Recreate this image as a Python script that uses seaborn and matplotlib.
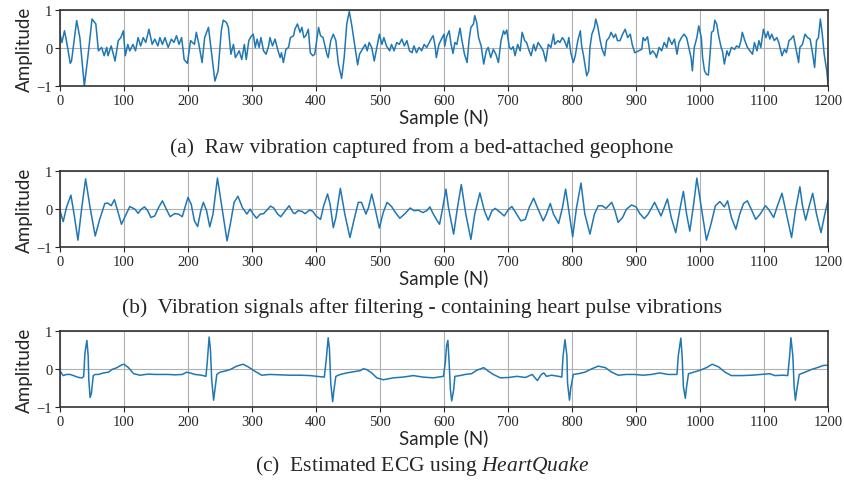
import numpy as np
import pandas as pd
import seaborn as sns
import matplotlib.pyplot as plt

# (a) raw geophone vibration
raw_x = [0, 3, 7, 10, 16, 18, 26, 31, 38, 44, 50, 56, 60, 65, 69, 73, 75, 80, 86, 91, 95, 99,
         102, 106, 109, 114, 118, 122, 126, 130, 134, 139, 144, 148, 153, 156, 160, 164, 169,
         174, 178, 182, 186, 190, 194, 199, 204, 210, 213, 217, 222, 226, 232, 237, 242, 247,
         252, 255, 260, 263, 267, 271, 274, 280, 284, 288, 291, 295, 298, 302, 305, 308, 311,
         314, 318, 322, 326, 328, 332, 336, 340, 344, 346, 349, 353, 357, 360, 365, 367, 371,
         375, 378, 381, 384, 388, 391, 395, 398, 404, 407, 411, 417, 419, 423, 427, 431, 435,
         440, 444, 448, 452, 456, 461, 465, 468, 471, 477, 480, 483, 487, 491, 495, 499, 503,
         506, 510, 515, 518, 522, 526, 530, 534, 538, 542, 546, 550, 553, 557, 561, 565, 569,
         573, 577, 581, 583, 586, 588, 592, 596, 600, 601, 604, 608, 611, 614, 617, 620, 625,
         628, 632, 636, 639, 642, 646, 648, 651, 654, 658, 662, 666, 669, 673, 677, 681, 685,
         689, 693, 695, 698, 702, 705, 708, 711, 715, 719, 722, 726, 729, 733, 736, 740, 743,
         747, 752, 755, 759, 763, 767, 771, 773, 778, 781, 785, 788, 792, 795, 798, 802, 805,
         809, 813, 815, 818, 820, 823, 826, 828, 831, 835, 837, 840, 844, 847, 851, 854, 858,
         861, 865, 868, 871, 875, 879, 883, 887, 891, 894, 898, 904, 909, 911, 914, 918, 922,
         926, 930, 932, 936, 940, 944, 948, 951, 956, 960, 964, 967, 971, 975, 979, 983, 986,
         988, 991, 995, 998, 1002, 1004, 1007, 1010, 1013, 1016, 1018, 1021, 1023, 1026, 1029,
         1033, 1035, 1038, 1042, 1045, 1049, 1054, 1057, 1061, 1064, 1066, 1070, 1074, 1078,
         1082, 1085, 1089, 1092, 1095, 1099, 1103, 1106, 1109, 1112, 1116, 1120, 1123, 1128,
         1132, 1135, 1139, 1142, 1146, 1149, 1154, 1156, 1160, 1164, 1168, 1172, 1176, 1179,
         1182, 1185, 1188, 1191, 1194, 1198, 1200]
raw_y = [0.37, 0.15, 0.46, 0.2, -0.4, -0.34, 0.73, 0.28, -1.0, -0.16, 0.77, 0.64, -0.07, 0.02,
         -0.2, 0.02, -0.2, 0.06, -0.34, 0.2, 0.28, 0.46, -0.2, 0.1, -0.07, 0.1, -0.07, 0.28,
         0.06, 0.28, 0.15, 0.5, 0.1, 0.24, 0.06, 0.28, 0.1, 0.28, 0.02, 0.24, 0.15, 0.33, 0.1,
         0.28, -0.3, -0.4, 0.2, 0.1, 0.42, 0.1, -0.38, 0.28, 0.55, -0.16, -0.87, -0.6, 0.46,
         0.74, 0.68, 0.55, -0.16, 0.1, -0.25, -0.07, -0.3, 0.1, -0.3, 0.2, 0.3, 0.37, 0.02,
         0.24, 0.02, 0.28, -0.07, -0.16, 0.06, 0.28, 0.06, 0.24, -0.03, -0.25, -0.12, -0.38,
         -0.03, 0.02, 0.28, 0.33, 0.5, 0.64, 0.42, 0.55, 0.28, 0.33, 0.5, -0.12, -0.2, -0.16,
         0.55, 0.33, 0.28, -0.16, -0.25, 0.2, 0.37, 0.2, -0.42, -0.8, -0.25, 0.64, 0.97, 0.59,
         0.02, -0.44, -0.16, -0.07, 0.1, -0.07, 0.15, 0.02, -0.34, 0.02, 0.37, 0.1, 0.28, 0.06,
         -0.07, 0.1, -0.07, 0.15, 0.1, 0.24, 0.06, 0.2, -0.07, -0.12, 0.06, -0.12, 0.02, -0.07,
         0.1, 0.02, 0.15, 0.28, 0.33, 0.06, -0.25, 0.1, 0.24, 0.37, 0.05, 0.3, 0.46, 0.1,
         -0.14, 0.15, 0.1, 0.53, 0.2, -0.16, -0.38, 0.2, 0.55, 0.64, 0.86, 0.68, 0.28, 0.06,
         -0.42, -0.07, 0.02, -0.25, -0.03, -0.16, -0.38, 0.2, 0.46, 0.37, 0.48, 0.02, -0.03,
         0.04, -0.2, 0.1, -0.07, 0.42, 0.2, 0.15, -0.07, -0.2, 0.1, -0.07, 0.15, 0.02, -0.07,
         -0.35, 0.1, 0.02, 0.37, 0.1, 0.2, 0.15, 0.28, 0.2, 0.02, 0.28, -0.12, -0.38, -0.2,
         0.2, 0.46, 0.06, -0.2, -0.42, -0.73, -0.6, 0.02, 0.37, 0.55, 0.77, 0.59, 0.2, -0.03,
         -0.2, 0.2, 0.28, 0.42, 0.28, 0.37, 0.2, 0.2, 0.37, 0.5, 0.28, 0.37, 0.1, -0.12, -0.07,
         -0.03, 0.28, 0.2, 0.3, -0.16, -0.07, -0.16, -0.25, 0.02, -0.07, 0.15, 0.02, 0.28, 0.1,
         0.24, -0.16, 0.15, 0.28, 0.37, 0.28, -0.03, -0.25, -0.6, 0.02, 0.28, 0.59, 0.28,
         -0.25, -0.6, -0.69, -0.71, -0.07, 0.42, 0.46, 0.74, 0.64, 0.33, 0.02, -0.07, -0.42,
         -0.07, -0.2, 0.02, -0.03, 0.06, 0.02, 0.2, 0.42, 0.2, 0.02, -0.07, -0.16, 0.15, -0.07,
         0.2, 0.02, 0.5, 0.28, 0.44, 0.24, 0.37, 0.2, 0.28, 0.15, -0.2, -0.03, -0.12, 0.2,
         0.24, 0.33, 0.06, -0.38, 0.02, 0.1, 0.37, 0.28, 0.24, -0.16, -0.51, 0.2, 0.28, 0.77,
         0.37, -0.16, -0.6, -0.95]

# (b) filtered signal
filt_x = [0, 5, 10, 17, 22, 28, 34, 40, 47, 55, 62, 70, 75, 80, 85, 90, 96, 102, 109, 117, 122,
          127, 132, 137, 142, 148, 154, 160, 165, 172, 179, 185, 191, 196, 200, 205, 210, 215,
          220, 224, 229, 234, 239, 246, 253, 261, 267, 272, 278, 285, 292, 297, 302, 307, 313,
          318, 323, 329, 334, 340, 345, 352, 358, 364, 367, 372, 378, 383, 390, 395, 400, 407,
          412, 418, 422, 427, 431, 438, 445, 453, 459, 466, 471, 478, 482, 487, 492, 499, 505,
          511, 518, 524, 531, 539, 547, 553, 560, 567, 573, 578, 582, 588, 593, 598, 603, 607,
          615, 621, 627, 634, 642, 648, 656, 663, 669, 675, 680, 688, 694, 701, 706, 712, 720,
          727, 733, 740, 746, 755, 760, 766, 771, 779, 785, 790, 795, 801, 807, 814, 820, 828,
          835, 841, 847, 853, 862, 867, 872, 879, 885, 893, 900, 906, 913, 919, 929, 934, 939,
          944, 949, 955, 962, 969, 974, 979, 984, 990, 995, 1002, 1010, 1017, 1024, 1031, 1038,
          1043, 1049, 1056, 1062, 1068, 1074, 1081, 1087, 1094, 1102, 1107, 1115, 1121, 1128,
          1135, 1143, 1149, 1156, 1160, 1165, 1170, 1176, 1182, 1189, 1195, 1200]
filt_y = [-0.04, -0.33, 0.04, 0.37, -0.13, -0.82, 0.04, 0.8, 0.04, -0.71, -0.27, 0.15, 0.16,
          0.09, 0.25, -0.04, -0.4, -0.18, 0.07, 0.0, -0.11, 0.0, 0.06, -0.04, -0.22, -0.18, 0.04,
          0.22, 0.04, -0.2, -0.12, -0.13, -0.2, 0.09, 0.31, 0.13, -0.31, -0.46, -0.04, 0.18,
          -0.04, -0.47, -0.13, 0.82, 0.04, -0.84, -0.31, 0.18, 0.34, 0.04, -0.13, 0.0, -0.13,
          -0.24, -0.13, -0.12, -0.03, 0.08, 0.03, -0.13, -0.2, -0.04, 0.09, -0.09, -0.12, -0.04,
          -0.06, -0.12, -0.02, -0.06, -0.18, -0.27, 0.09, 0.4, 0.13, -0.49, -0.22, 0.55, -0.13,
          -0.75, -0.31, 0.18, 0.18, -0.13, 0.04, 0.4, 0.04, -0.5, -0.09, 0.18, 0.07, -0.09,
          -0.24, -0.12, 0.03, -0.04, -0.03, -0.09, -0.04, 0.06, -0.09, -0.27, -0.4, 0.04, 0.53,
          0.04, -0.66, 0.04, 0.65, -0.13, -0.8, -0.13, 0.43, -0.04, -0.29, -0.04, 0.02, -0.09,
          -0.18, 0.0, 0.07, -0.09, -0.31, -0.27, 0.04, 0.29, 0.04, -0.31, -0.13, 0.15, -0.13,
          -0.38, 0.04, 0.53, -0.04, -0.73, 0.04, 0.69, -0.13, -0.66, -0.13, 0.09, 0.09, 0.02,
          0.18, -0.04, -0.35, -0.22, 0.0, 0.11, 0.06, -0.12, -0.25, -0.13, 0.18, 0.0, -0.18,
          0.04, 0.27, -0.22, -0.62, 0.04, 0.47, -0.13, -0.58, 0.13, 0.82, 0.04, -0.82, -0.4,
          0.09, 0.2, 0.06, 0.22, -0.22, -0.53, -0.13, 0.15, 0.22, -0.04, -0.27, -0.13, 0.09,
          0.0, -0.22, 0.09, 0.42, -0.13, -0.75, -0.04, 0.59, 0.1, -0.29, 0.05, 0.42, -0.13,
          -0.62, -0.13, 0.24]

# (c) estimated ECG
ecg_x = [0, 5, 10, 16, 21, 29, 35, 37, 39, 42, 44, 45, 47, 49, 52, 55, 60, 68, 76, 81, 89, 96,
         100, 107, 115, 125, 138, 148, 159, 169, 180, 191, 198, 203, 211, 221, 228, 230, 233,
         235, 237, 240, 242, 245, 250, 258, 266, 276, 286, 294, 304, 315, 328, 344, 359, 375,
         391, 401, 413, 416, 419, 421, 423, 426, 428, 431, 438, 448, 458, 469, 474, 479, 487,
         495, 505, 521, 536, 552, 567, 583, 599, 602, 604, 606, 608, 610, 612, 615, 617, 625,
         633, 643, 651, 662, 669, 677, 688, 701, 714, 727, 738, 742, 746, 752, 756, 760, 768,
         779, 784, 786, 789, 792, 793, 796, 798, 802, 810, 820, 831, 841, 852, 862, 872, 885,
         898, 911, 924, 937, 950, 964, 966, 970, 972, 974, 977, 979, 982, 990, 1000, 1010, 1019,
         1029, 1039, 1049, 1065, 1081, 1096, 1109, 1117, 1130, 1137, 1140, 1142, 1145, 1147,
         1149, 1152, 1155, 1164, 1174, 1185, 1193, 1200]
ecg_y = [-0.05, -0.17, -0.14, -0.14, -0.17, -0.22, -0.23, -0.19, 0.44, 0.76, 0.35, -0.28,
         -0.75, -0.64, -0.17, -0.14, -0.14, -0.1, -0.08, -0.01, 0.04, 0.11, 0.13, 0.04, -0.12,
         -0.16, -0.13, -0.14, -0.14, -0.14, -0.15, -0.14, -0.08, -0.1, -0.14, -0.16, -0.19,
         0.17, 0.85, 0.53, -0.28, -0.82, -0.55, -0.14, -0.08, -0.05, -0.01, 0.08, 0.13, 0.06,
         -0.05, -0.16, -0.14, -0.15, -0.16, -0.16, -0.17, -0.19, -0.21, 0.26, 0.83, 0.53,
         -0.37, -0.86, -0.55, -0.19, -0.14, -0.1, -0.07, -0.04, 0.01, -0.01, -0.1, -0.23,
         -0.28, -0.23, -0.21, -0.17, -0.21, -0.23, -0.19, 0.17, 0.62, 0.76, 0.17, -0.55, -0.84,
         -0.55, -0.19, -0.17, -0.14, -0.12, -0.03, 0.04, -0.05, -0.14, -0.23, -0.22, -0.19,
         -0.22, -0.14, -0.23, -0.3, -0.14, -0.1, -0.19, -0.16, -0.19, -0.21, 0.35, 0.78, 0.35,
         -0.37, -0.82, -0.5, -0.14, -0.12, -0.08, 0.01, 0.08, 0.04, -0.08, -0.16, -0.14, -0.14,
         -0.16, -0.14, -0.1, -0.14, -0.14, 0.35, 0.82, 0.35, -0.46, -0.77, -0.46, -0.12, -0.08,
         -0.03, 0.04, 0.13, 0.06, -0.08, -0.17, -0.17, -0.16, -0.14, -0.12, -0.17, -0.16,
         -0.17, 0.35, 0.83, 0.35, -0.46, -0.82, -0.46, -0.14, -0.08, -0.01, 0.05, 0.1, 0.1]

x_ticks = [0, 100, 200, 300, 400, 500, 600, 700, 800, 900, 1000, 1100, 1200]
y_ticks = [-1, 0, 1]
captions = [
    r"(a)  Raw vibration captured from a bed-attached geophone",
    r"(b)  Vibration signals after filtering - containing heart pulse vibrations",
    r"(c)  Estimated ECG using $\it{HeartQuake}$",
]

sns.set_style("ticks")
plt.rcParams["font.family"] = ["Liberation Serif", "DejaVu Serif"]
plt.rcParams["mathtext.fontset"] = "custom"
plt.rcParams["mathtext.it"] = "Liberation Serif:italic"
plt.rcParams["mathtext.rm"] = "Liberation Serif"

fig = plt.figure(figsize=(8.44, 4.85), dpi=100)

panels = [(raw_x, raw_y), (filt_x, filt_y), (ecg_x, ecg_y)]
bottoms = [0.8206, 0.4887, 0.1588]
caption_y = [0.695, 0.365, 0.039]

for (xs, ys), b, cy, cap in zip(panels, bottoms, caption_y, captions):
    ax = fig.add_axes([0.0711, b, 0.91, 0.156])
    df = pd.DataFrame({"sample": xs, "amp": ys})
    sns.lineplot(data=df, x="sample", y="amp", ax=ax, color="#1f77b4",
                 linewidth=1.1, errorbar=None, sort=False)
    ax.set_xlim(0, 1200)
    ax.set_ylim(-1, 1)
    ax.set_xticks(x_ticks)
    ax.set_yticks(y_ticks)
    ax.grid(True, color="#b0b0b0", linewidth=0.8)
    ax.set_axisbelow(True)
    ax.tick_params(labelsize=10.5, length=3.5, width=0.8, pad=2)
    for s in ax.spines.values():
        s.set_color("#333333")
        s.set_linewidth(1.2)
    ax.set_xlabel("Sample (N)", family="Lato", fontsize=13.5, labelpad=1)
    ax.set_ylabel("Amplitude", family="Lato", fontsize=13.5, labelpad=3)
    fig.text(0.5, cy, cap, ha="center", va="center", fontsize=15.5)

fig.savefig("out.png", dpi=100)
